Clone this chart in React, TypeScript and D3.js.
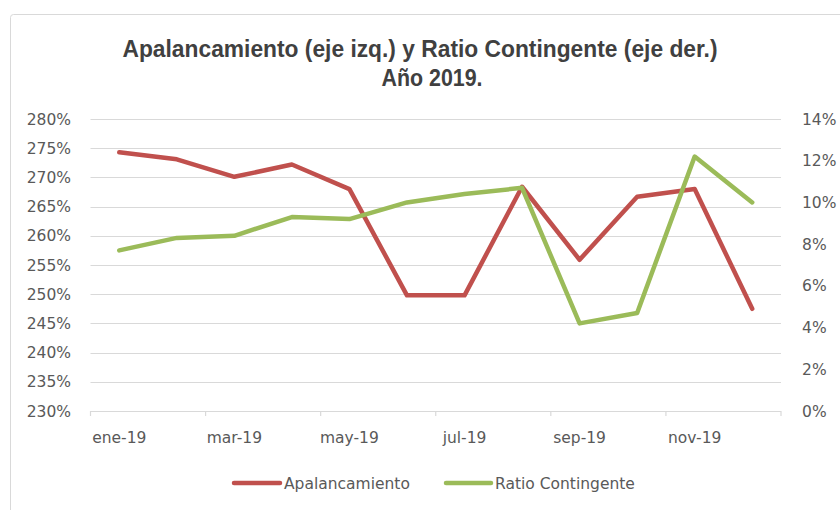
import React from "react";
import * as d3 from "d3";

const width = 840;
const height = 510;
const margin = { top: 119, right: 59, bottom: 99, left: 90.5 };

const months = [
  "ene-19", "feb-19", "mar-19", "abr-19", "may-19", "jun-19",
  "jul-19", "ago-19", "sep-19", "oct-19", "nov-19", "dic-19",
];
// Apalancamiento, % (eje izq.)
const apalancamiento = [274.3, 273.1, 270.1, 272.2, 268.0, 249.8, 249.8, 268.4, 255.9, 266.7, 268.0, 247.5];
// Ratio Contingente, % (eje der.)
const ratioContingente = [7.7, 8.3, 8.4, 9.3, 9.2, 10.0, 10.4, 10.7, 4.2, 4.7, 12.2, 10.0];

const leftTicks = [230, 235, 240, 245, 250, 255, 260, 265, 270, 275, 280];
const rightTicks = [0, 2, 4, 6, 8, 10, 12, 14];

const RED = "#c0504d";
const GREEN = "#9bbb59";
const GRID = "#d9d9d9";
const TEXT = "#595959";
const FONT = "'DejaVu Sans', sans-serif";
const TITLE_FONT = "'Liberation Sans', Arial, sans-serif";

const App = () => {
  const x = d3
    .scaleBand<string>()
    .domain(months)
    .range([margin.left, width - margin.right]);
  const yLeft = d3.scaleLinear().domain([230, 280]).range([height - margin.bottom, margin.top]);
  const yRight = d3.scaleLinear().domain([0, 14]).range([height - margin.bottom, margin.top]);

  const cx = (m: string) => (x(m) ?? 0) + x.bandwidth() / 2;
  const lineLeft = d3
    .line<number>()
    .x((_, i) => cx(months[i]))
    .y((d) => yLeft(d));
  const lineRight = d3
    .line<number>()
    .x((_, i) => cx(months[i]))
    .y((d) => yRight(d));

  const baseY = height - margin.bottom;
  // tick marks every two months, plus the end of the axis
  const tickXs = months.filter((_, i) => i % 2 === 0).map((m) => x(m) ?? 0);
  tickXs.push(width - margin.right);

  return (
    <svg
      width={width}
      height={height}
      style={{ position: "absolute", left: 0, top: 0, background: "#fff" }}
    >
      <rect x={10.5} y={14.5} width={width} height={height} fill="#fff" stroke={GRID} rx={3} />

      {/* title */}
      <text
        x={width / 2}
        y={57}
        textAnchor="middle"
        fontFamily={TITLE_FONT}
        fontWeight="bold"
        fontSize={23}
        fill="#404040"
        textLength={595}
        lengthAdjust="spacingAndGlyphs"
      >
        Apalancamiento (eje izq.) y Ratio Contingente (eje der.)
      </text>
      <text
        x={width / 2 + 12}
        y={86}
        textAnchor="middle"
        fontFamily={TITLE_FONT}
        fontWeight="bold"
        fontSize={23}
        fill="#404040"
        textLength={101}
        lengthAdjust="spacingAndGlyphs"
      >
        Año 2019.
      </text>

      {/* gridlines + left axis */}
      {leftTicks.map((t) => (
        <g key={`l${t}`}>
          {t !== 230 && (
            <line
              x1={margin.left}
              x2={width - margin.right}
              y1={Math.round(yLeft(t)) + 0.5}
              y2={Math.round(yLeft(t)) + 0.5}
              stroke={GRID}
              strokeWidth={1.2}
            />
          )}
          <text
            x={71}
            y={yLeft(t)}
            dy="0.36em"
            textAnchor="end"
            fontFamily={FONT}
            fontSize={15.5}
            fill={TEXT}
          >
            {t}%
          </text>
        </g>
      ))}

      {/* right axis */}
      {rightTicks.map((t) => (
        <text
          key={`r${t}`}
          x={802}
          y={yRight(t)}
          dy="0.36em"
          textAnchor="start"
          fontFamily={FONT}
          fontSize={15.5}
          fill={TEXT}
        >
          {t}%
        </text>
      ))}

      {/* x axis */}
      <line
        x1={margin.left}
        x2={width - margin.right}
        y1={Math.round(baseY) + 0.5}
        y2={Math.round(baseY) + 0.5}
        stroke={GRID}
        strokeWidth={1.2}
      />
      {tickXs.map((tx, i) => (
        <line
          key={`t${i}`}
          x1={tx}
          x2={tx}
          y1={baseY}
          y2={baseY + 5}
          stroke={GRID}
          strokeWidth={1.2}
        />
      ))}
      {months.map((m, i) =>
        i % 2 === 0 ? (
          <text
            key={m}
            x={cx(m)}
            y={baseY + 32}
            textAnchor="middle"
            fontFamily={FONT}
            fontSize={15.5}
            fill={TEXT}
          >
            {m}
          </text>
        ) : null
      )}

      {/* series */}
      <path
        d={lineLeft(apalancamiento) ?? ""}
        fill="none"
        stroke={RED}
        strokeWidth={4.5}
        strokeLinejoin="round"
        strokeLinecap="round"
      />
      <path
        d={lineRight(ratioContingente) ?? ""}
        fill="none"
        stroke={GREEN}
        strokeWidth={4.5}
        strokeLinejoin="round"
        strokeLinecap="round"
      />

      {/* legend */}
      <g fontFamily={FONT} fontSize={15.5} fill={TEXT}>
        <line x1={234} x2={280} y1={483} y2={483} stroke={RED} strokeWidth={4.5} strokeLinecap="round" />
        <text x={284} y={483} dy="0.36em">Apalancamiento</text>
        <line x1={446} x2={491} y1={483} y2={483} stroke={GREEN} strokeWidth={4.5} strokeLinecap="round" />
        <text x={495} y={483} dy="0.36em">Ratio Contingente</text>
      </g>
    </svg>
  );
};

export default App;
